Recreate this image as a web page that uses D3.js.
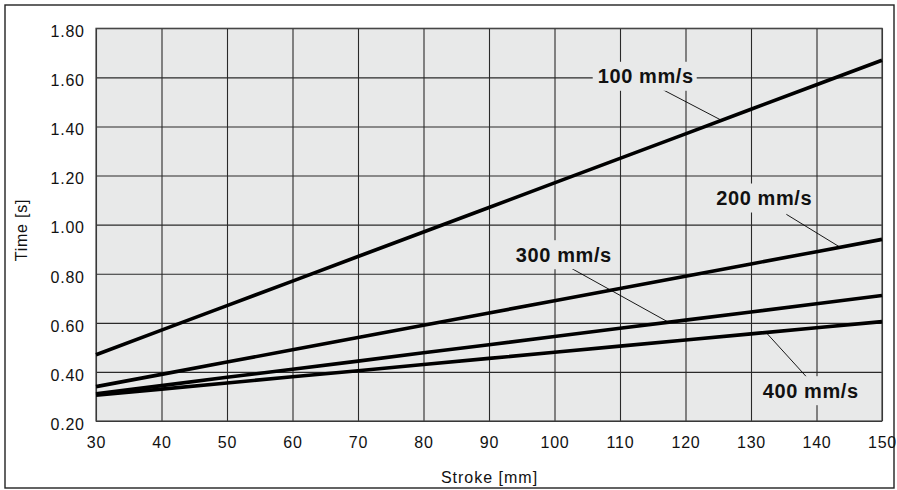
<!DOCTYPE html>
<html>
<head>
<meta charset="utf-8">
<script src="https://cdn.jsdelivr.net/npm/d3@7"></script>
<style>
  html, body { margin: 0; padding: 0; background: #fff; }
  svg { display: block; font-family: "Liberation Sans", Arial, Helvetica, sans-serif; }
</style>
</head>
<body>
<svg id="chart" width="897" height="490"></svg>
<script>
// ---- Data ----
const strokes = [30, 40, 50, 60, 70, 80, 90, 100, 110, 120, 130, 140, 150];
const time100 = [0.47, 0.57, 0.67, 0.77, 0.87, 0.97, 1.07, 1.17, 1.27, 1.37, 1.47, 1.57, 1.67];
const time200 = [0.34, 0.39, 0.44, 0.49, 0.54, 0.59, 0.64, 0.69, 0.74, 0.79, 0.84, 0.89, 0.94];
const time300 = [0.311, 0.344, 0.378, 0.411, 0.444, 0.478, 0.511, 0.544, 0.578, 0.611, 0.644, 0.678, 0.711];
const time400 = [0.305, 0.330, 0.355, 0.380, 0.405, 0.430, 0.455, 0.480, 0.505, 0.530, 0.555, 0.580, 0.605];
const seriesNames = ["100 mm/s", "200 mm/s", "300 mm/s", "400 mm/s"];
const xTicks = [30, 40, 50, 60, 70, 80, 90, 100, 110, 120, 130, 140, 150];
const yTicks = [0.20, 0.40, 0.60, 0.80, 1.00, 1.20, 1.40, 1.60, 1.80];
const xTitle = "Stroke [mm]";
const yTitle = "Time [s]";
// label anchors (data units): text start, baseline, leader start, leader end stroke on curve
const labelStroke = [106.6, 124.7, 94.1, 131.8];
const labelTime = [1.576, 1.080, 0.849, 0.295];
const leaderFromStroke = [116.6, 135.4, 102.1, 138.6];
const leaderFromTime = [1.549, 1.042, 0.829, 0.376];
const leaderToStroke = [125.5, 143.6, 117.4, 132.3];

const seriesValues = [time100, time200, time300, time400];

// ---- Layout ----
const svg = d3.select("#chart");
const plot = { left: 96, right: 882, top: 28.3, bottom: 421 };

const x = d3.scaleLinear().domain([30, 150]).range([plot.left, plot.right]);
const y = d3.scaleLinear().domain([0.2, 1.8]).range([plot.bottom, plot.top]);

// outer frame
svg.append("rect")
  .attr("x", 5).attr("y", 5).attr("width", 889).attr("height", 483)
  .attr("fill", "#fff").attr("stroke", "#222").attr("stroke-width", 1.4);

// plot background
svg.append("rect")
  .attr("x", plot.left).attr("y", plot.top)
  .attr("width", plot.right - plot.left).attr("height", plot.bottom - plot.top)
  .attr("fill", "#e8e9e9");

const gridColor = "#2a2a2a";

// grid via axes
const xAxis = d3.axisBottom(x).tickValues(xTicks).tickSize(-(plot.bottom - plot.top)).tickPadding(0).tickFormat(d3.format("d"));
const gx = svg.append("g").attr("transform", `translate(0,${plot.bottom})`).call(xAxis);
gx.select(".domain").remove();
gx.selectAll(".tick line").attr("stroke", gridColor).attr("stroke-width", 1.1);
gx.selectAll(".tick text")
  .attr("y", 27.3).attr("dy", null)
  .attr("fill", "#111")
  .style("font-size", "16px").style("letter-spacing", "0.8px")
  .style("font-family", "'Liberation Sans', Arial, sans-serif");

const yAxis = d3.axisLeft(y).tickValues(yTicks).tickSize(-(plot.right - plot.left)).tickPadding(0).tickFormat(d3.format(".2f"));
const gy = svg.append("g").attr("transform", `translate(${plot.left},0)`).call(yAxis);
gy.select(".domain").remove();
gy.selectAll(".tick line").attr("stroke", gridColor).attr("stroke-width", 1.1);
gy.selectAll(".tick text")
  .attr("x", -11.2).attr("dy", null).attr("y", 8.3)
  .attr("fill", "#111")
  .style("font-size", "16px").style("letter-spacing", "0.8px")
  .style("font-family", "'Liberation Sans', Arial, sans-serif");

// plot border
svg.append("rect")
  .attr("x", plot.left).attr("y", plot.top)
  .attr("width", plot.right - plot.left).attr("height", plot.bottom - plot.top)
  .attr("fill", "none").attr("stroke", "#444").attr("stroke-width", 1.2);

// axis titles
svg.append("text")
  .attr("x", (plot.left + plot.right) / 2 + 0.5).attr("y", 482.5)
  .attr("text-anchor", "middle")
  .style("font-size", "16px").style("letter-spacing", "1px")
  .attr("fill", "#111").text(xTitle);

svg.append("text")
  .attr("transform", "translate(26.5,230) rotate(-90)")
  .attr("text-anchor", "middle")
  .style("font-size", "16px").style("letter-spacing", "0.8px")
  .attr("fill", "#111").text(yTitle);

// label backgrounds + texts
const interp = (vals, s) => {
  const i = Math.min(strokes.length - 2, Math.max(0, d3.bisectRight(strokes, s) - 1));
  const t = (s - strokes[i]) / (strokes[i + 1] - strokes[i]);
  return vals[i] + t * (vals[i + 1] - vals[i]);
};

const labelsG = svg.append("g");
seriesNames.forEach((name, i) => {
  const g = labelsG.append("g");
  const bg = g.append("rect").attr("fill", "#e8e9e9");
  const txt = g.append("text")
    .attr("x", x(labelStroke[i])).attr("y", y(labelTime[i]))
    .style("font-size", "20px").style("font-weight", "bold").style("letter-spacing", "0.6px")
    .attr("fill", "#111").text(name);
  const bb = txt.node().getBBox();
  bg.attr("x", bb.x - 5).attr("y", bb.y - 3.5).attr("width", bb.width + 8).attr("height", bb.height + 7);
});

// lines
const line = d3.line().x((d, j) => x(strokes[j])).y(d => y(d));
svg.append("g").selectAll("path").data(seriesValues).join("path")
  .attr("d", d => line(d))
  .attr("fill", "none").attr("stroke", "#000").attr("stroke-width", 3.6)
  .attr("stroke-linecap", "butt");

// leaders
svg.append("g").selectAll("line").data(seriesNames).join("line")
  .attr("x1", (d, i) => x(leaderFromStroke[i]))
  .attr("y1", (d, i) => y(leaderFromTime[i]))
  .attr("x2", (d, i) => x(leaderToStroke[i]))
  .attr("y2", (d, i) => y(interp(seriesValues[i], leaderToStroke[i])))
  .attr("stroke", "#000").attr("stroke-width", 0.9);

// bring label texts to top
labelsG.raise();
</script>
</body>
</html>
